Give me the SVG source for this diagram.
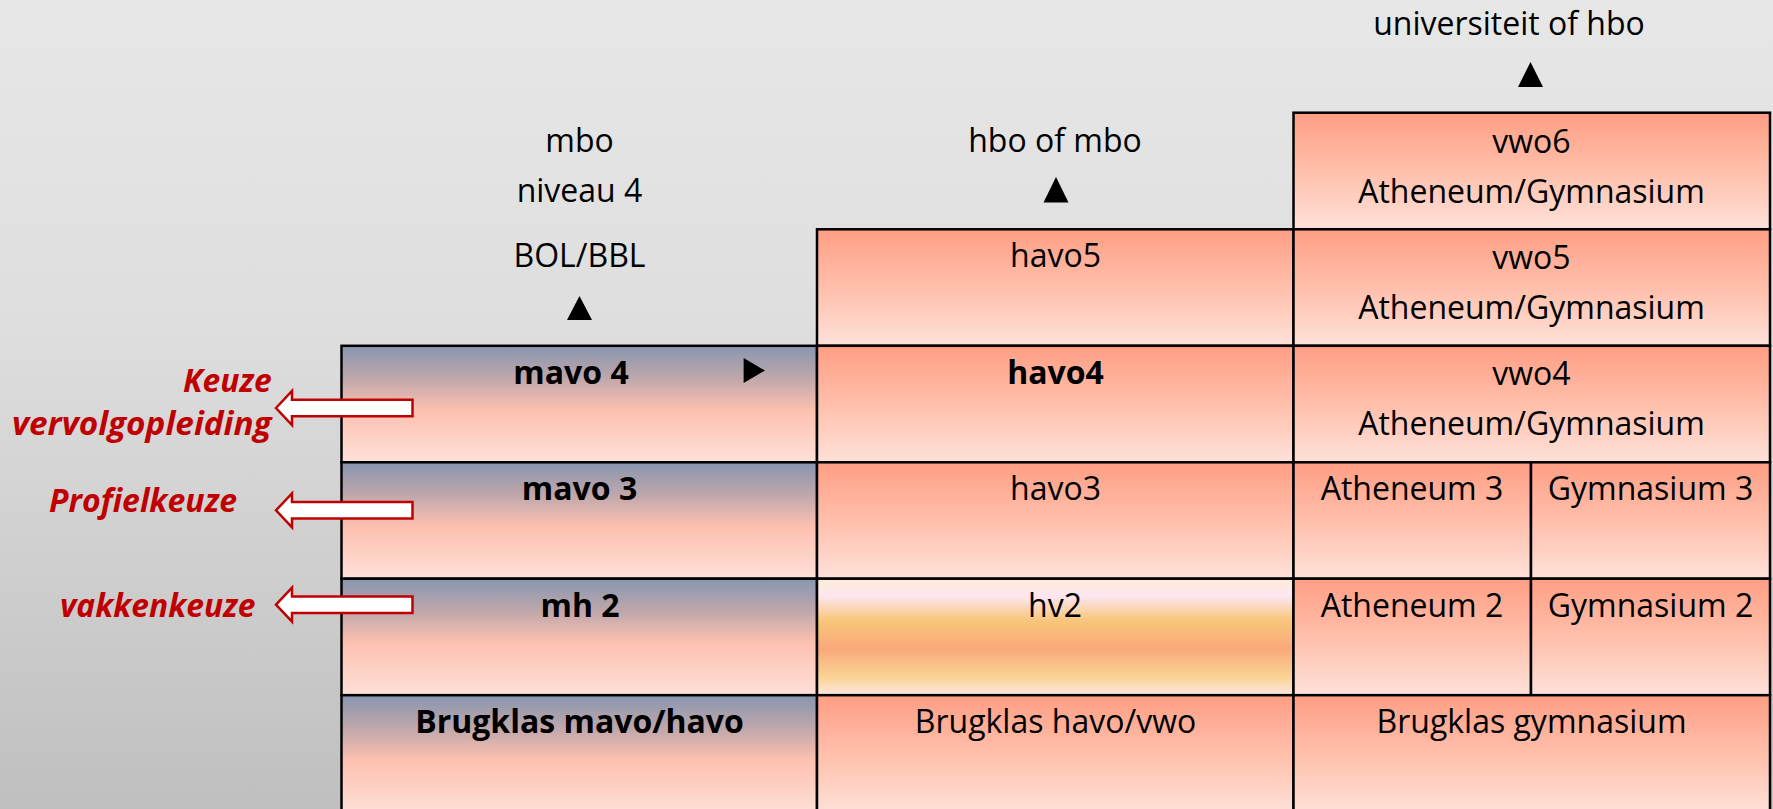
<svg xmlns="http://www.w3.org/2000/svg" width="1773" height="809" viewBox="0 0 1773 809">
<defs>
<linearGradient id="bg" x1="0" y1="0" x2="0" y2="1">
<stop offset="0" stop-color="#e7e7e7"/>
<stop offset="0.4" stop-color="#dedede"/>
<stop offset="1" stop-color="#bfbfbf"/>
</linearGradient>
<linearGradient id="blue" x1="0" y1="0" x2="0" y2="1">
<stop offset="0" stop-color="#8796b0"/>
<stop offset="0.28" stop-color="#bfa7ab"/>
<stop offset="0.55" stop-color="#fdc0b0"/>
<stop offset="1" stop-color="#fee0d8"/>
</linearGradient>
<linearGradient id="salmon" x1="0" y1="0" x2="0" y2="1">
<stop offset="0" stop-color="#ff9e84"/>
<stop offset="0.5" stop-color="#ffbfab"/>
<stop offset="1" stop-color="#fee1d9"/>
</linearGradient>
<linearGradient id="hv" x1="0" y1="0" x2="0" y2="1">
<stop offset="0" stop-color="#fdecd6"/>
<stop offset="0.15" stop-color="#fde6f0"/>
<stop offset="0.36" stop-color="#f8c67a"/>
<stop offset="0.6" stop-color="#f9a87a"/>
<stop offset="0.84" stop-color="#fad392"/>
<stop offset="1" stop-color="#fde6e2"/>
</linearGradient>
<style>
.c { stroke:#000; stroke-width:2.5; }
.t { font-family:"Open Sans","DejaVu Sans",sans-serif; font-size:32px; fill:#000; text-anchor:middle; }
.b { font-weight:bold; }
.r { font-family:"Open Sans","DejaVu Sans",sans-serif; font-size:32px; font-weight:bold; font-style:italic; fill:#c00000; }
.ar { fill:#fff; stroke:#c00000; stroke-width:2.5; }
.tri { fill:#000; }
</style>
</defs>
<rect width="1773" height="809" fill="url(#bg)"/>

<g id="labels-top">
<text class="t" x="1509" y="35">universiteit of hbo</text>
<polygon class="tri" points="1530.5,62 1518,87 1543,87"/>
<text class="t" x="579.5" y="152">mbo</text>
<text class="t" x="579.5" y="202">niveau 4</text>
<text class="t" x="579.5" y="267">BOL/BBL</text>
<polygon class="tri" points="579.5,296 567,320 592,320"/>
<text class="t" x="1055" y="152">hbo of mbo</text>
<polygon class="tri" points="1056,177 1043.5,202.5 1068.5,202.5"/>
</g>

<g id="vwo6"><rect class="c" x="1293.5" y="112.7" width="476.5" height="116.6" fill="url(#salmon)"/>
<text class="t" x="1531.5" y="153">vwo6</text><text class="t" x="1531.5" y="203">Atheneum/Gymnasium</text></g>

<g id="havo5"><rect class="c" x="817" y="229.3" width="476.5" height="116.5" fill="url(#salmon)"/>
<text class="t" x="1055.5" y="267">havo5</text></g>
<g id="vwo5"><rect class="c" x="1293.5" y="229.3" width="476.5" height="116.5" fill="url(#salmon)"/>
<text class="t" x="1531.5" y="269">vwo5</text><text class="t" x="1531.5" y="319">Atheneum/Gymnasium</text></g>

<g id="mavo4"><rect class="c" x="341.5" y="345.8" width="475.5" height="116.5" fill="url(#blue)"/>
<text class="t b" x="571" y="384">mavo 4</text>
<polygon class="tri" points="743.6,358 765,370.5 743.6,383"/></g>
<g id="havo4"><rect class="c" x="817" y="345.8" width="476.5" height="116.5" fill="url(#salmon)"/>
<text class="t b" x="1055.5" y="384">havo4</text></g>
<g id="vwo4"><rect class="c" x="1293.5" y="345.8" width="476.5" height="116.5" fill="url(#salmon)"/>
<text class="t" x="1531.5" y="385">vwo4</text><text class="t" x="1531.5" y="435">Atheneum/Gymnasium</text></g>

<g id="mavo3"><rect class="c" x="341.5" y="462.3" width="475.5" height="116.4" fill="url(#blue)"/>
<text class="t b" x="579.5" y="500">mavo 3</text></g>
<g id="havo3"><rect class="c" x="817" y="462.3" width="476.5" height="116.4" fill="url(#salmon)"/>
<text class="t" x="1055.5" y="500">havo3</text></g>
<g id="atheneum3"><rect class="c" x="1293.5" y="462.3" width="237.5" height="116.4" fill="url(#salmon)"/>
<text class="t" x="1412" y="500">Atheneum 3</text></g>
<g id="gymnasium3"><rect class="c" x="1531" y="462.3" width="239" height="116.4" fill="url(#salmon)"/>
<text class="t" x="1650.5" y="500">Gymnasium 3</text></g>

<g id="mh2"><rect class="c" x="341.5" y="578.7" width="475.5" height="116.5" fill="url(#blue)"/>
<text class="t b" x="580" y="616.5">mh 2</text></g>
<g id="hv2"><rect class="c" x="817" y="578.7" width="476.5" height="116.5" fill="url(#hv)"/>
<text class="t" x="1055" y="616.5">hv2</text></g>
<g id="atheneum2"><rect class="c" x="1293.5" y="578.7" width="237.5" height="116.5" fill="url(#salmon)"/>
<text class="t" x="1412" y="616.5">Atheneum 2</text></g>
<g id="gymnasium2"><rect class="c" x="1531" y="578.7" width="239" height="116.5" fill="url(#salmon)"/>
<text class="t" x="1650.5" y="616.5">Gymnasium 2</text></g>

<g id="brugklas-mh"><rect class="c" x="341.5" y="695.2" width="475.5" height="118" fill="url(#blue)"/>
<text class="t b" x="579.5" y="733">Brugklas mavo/havo</text></g>
<g id="brugklas-hv"><rect class="c" x="817" y="695.2" width="476.5" height="118" fill="url(#salmon)"/>
<text class="t" x="1055.5" y="733">Brugklas havo/vwo</text></g>
<g id="brugklas-g"><rect class="c" x="1293.5" y="695.2" width="476.5" height="118" fill="url(#salmon)"/>
<text class="t" x="1531.5" y="733">Brugklas gymnasium</text></g>

<g id="side-labels">
<text class="r" x="183" y="392" textLength="88.6" lengthAdjust="spacingAndGlyphs">Keuze</text>
<text class="r" x="12" y="435" textLength="259.6" lengthAdjust="spacingAndGlyphs">vervolgopleiding</text>
<text class="r" x="49" y="512" textLength="188" lengthAdjust="spacingAndGlyphs">Profielkeuze</text>
<text class="r" x="60" y="617" textLength="195.5" lengthAdjust="spacingAndGlyphs">vakkenkeuze</text>
</g>

<g id="connectors">
<polygon class="ar" points="276,408 292,391 292,399.7 412.5,399.7 412.5,416.3 292,416.3 292,425"/>
<polygon class="ar" points="276,510.3 292,493.3 292,502 412.5,502 412.5,518.6 292,518.6 292,527.3"/>
<polygon class="ar" points="276,604.7 292,587.7 292,596.4 412.5,596.4 412.5,613 292,613 292,621.7"/>
</g>
</svg>
